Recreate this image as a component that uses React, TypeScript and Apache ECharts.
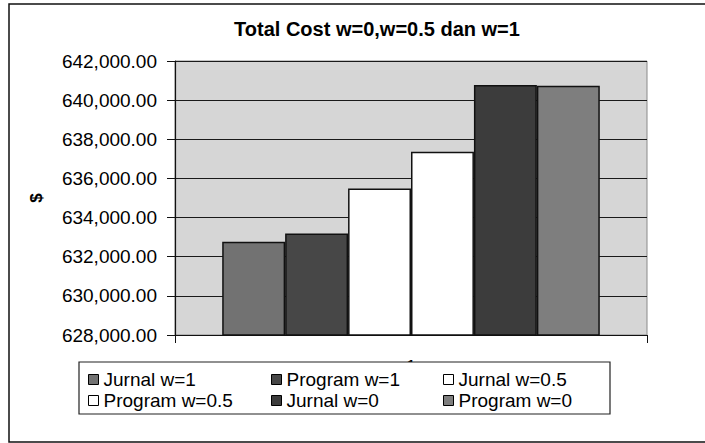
import React, { useEffect, useRef } from "react";
import * as echarts from "echarts";

const categories = ["1"];
const seriesNames = ["Jurnal w=1", "Program w=1", "Jurnal w=0.5", "Program w=0.5", "Jurnal w=0", "Program w=0"];
const seriesValues = [632770, 633190, 635490, 637360, 640770, 640740];
const seriesColors = ["#727272", "#474747", "#ffffff", "#ffffff", "#3c3c3c", "#7e7e7e"];
const yMin = 628000;
const yMax = 642000;
const yInterval = 2000;

const legendCols = [88, 271, 443];
const legendRows = [370, 391];

export default function App() {
  const ref = useRef<HTMLDivElement>(null);
  useEffect(() => {
    if (!ref.current) return;
    const chart = echarts.init(ref.current, null, { renderer: "svg" });
    const font = "Liberation Sans, Arial, sans-serif";
    const legends = seriesNames.map((name, i) => ({
      show: true,
      data: [name],
      left: legendCols[i % 3],
      top: legendRows[Math.floor(i / 3)],
      orient: "horizontal",
      icon: "rect",
      itemWidth: 10,
      itemHeight: 10,
      padding: 0,
      itemStyle: { borderColor: "#000", borderWidth: 1 },
      textStyle: { fontFamily: font, fontSize: 19, color: "#000" },
      selectedMode: false,
      z: 10,
    }));
    chart.setOption({
      animation: false,
      backgroundColor: "#fff",
      title: {
        text: "Total Cost w=0,w=0.5 dan w=1",
        left: 372,
        textAlign: "center",
        top: 14,
        textStyle: { fontFamily: font, fontSize: 20, fontWeight: "bold", color: "#000" },
      },
      graphic: [
        {
          type: "rect",
          shape: { x: 9, y: 4, width: 705, height: 438 },
          style: { fill: "none", stroke: "#111", lineWidth: 1.5 },
          z: 0,
        },
        {
          type: "rect",
          shape: { x: 79, y: 362, width: 531, height: 52 },
          style: { fill: "#fff", stroke: "#222", lineWidth: 1.2 },
          z: 5,
        },
      ],
      legend: legends,
      grid: {
        left: 175,
        top: 61,
        width: 472,
        height: 274,
        show: true,
        backgroundColor: "#d6d6d6",
        borderColor: "#8a8a8a",
        borderWidth: 1,
      },
      xAxis: {
        type: "category",
        data: categories,
        z: 1,
        axisLine: { lineStyle: { color: "#111", width: 1.2 } },
        axisTick: { show: true, length: 8, lineStyle: { color: "#111" } },
        axisLabel: { fontFamily: font, fontSize: 19, color: "#000", margin: 22 },
      },
      yAxis: {
        type: "value",
        min: yMin,
        max: yMax,
        interval: yInterval,
        name: "$",
        nameLocation: "middle",
        nameRotate: 90,
        nameGap: 130,
        nameTextStyle: { fontFamily: font, fontSize: 17, fontWeight: "bold", color: "#000" },
        axisLine: { show: true, lineStyle: { color: "#111", width: 1.2 } },
        axisTick: { show: true, length: 8, lineStyle: { color: "#111" } },
        axisLabel: {
          fontFamily: font,
          fontSize: 19,
          color: "#000",
          margin: 18,
          formatter: (v: number) =>
            v.toLocaleString("en-US", { minimumFractionDigits: 2, maximumFractionDigits: 2 }),
        },
        splitLine: { show: true, lineStyle: { color: "#1a1a1a", width: 1.2 } },
      },
      series: seriesNames.map((name, i) => ({
        type: "bar",
        name,
        data: [seriesValues[i]],
        barGap: "0%",
        barCategoryGap: "20%",
        itemStyle: { color: seriesColors[i], borderColor: "#111", borderWidth: 1.5 },
      })),
    });
    return () => chart.dispose();
  }, []);
  return (
    <div
      ref={ref}
      style={{ position: "fixed", left: 0, top: 0, width: 705, height: 443 }}
    />
  );
}
